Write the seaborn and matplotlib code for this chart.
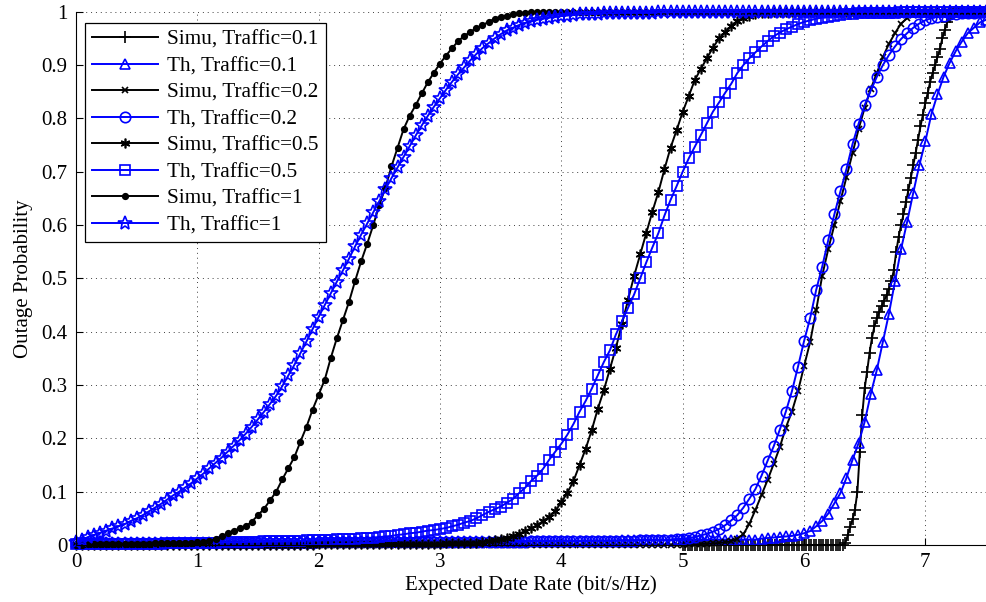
import numpy as np
import pandas as pd
import matplotlib
matplotlib.use('Agg')
import matplotlib.pyplot as plt
import seaborn as sns

# expected data rate grids (bit/s/Hz)
rate = np.round(np.arange(0, 7.5001, 0.05), 2)          # 151 points
rate_simu_01 = np.round(np.arange(5.0, 7.5001, 0.02), 2)  # 126 points

# outage probability
simu_01 = [0.0] * 67 + [
    0.003, 0.018, 0.034, 0.048, 0.066, 0.100, 0.175, 0.244, 0.294, 0.325,
    0.360, 0.388, 0.410, 0.425, 0.437, 0.448, 0.458, 0.468, 0.480, 0.495,
    0.515, 0.550, 0.578, 0.600, 0.620, 0.643, 0.665, 0.688, 0.712, 0.735,
    0.760, 0.785, 0.807, 0.829, 0.848, 0.869, 0.885, 0.900, 0.915, 0.930,
    0.950, 0.966, 0.980, 0.990, 0.996, 0.999] + [1.0] * 13

th_01 = [0.006] * 30 + [0.007] * 30 + [0.008] * 30 + [0.009] * 15 + [0.010] * 8 + [
    0.012, 0.013, 0.014, 0.015, 0.016, 0.017, 0.019,
    0.022, 0.026, 0.035, 0.045, 0.059, 0.078, 0.097, 0.126, 0.160, 0.191,
    0.231, 0.283, 0.328, 0.381, 0.434, 0.495, 0.555, 0.606, 0.660, 0.712,
    0.757, 0.808, 0.845, 0.878, 0.904, 0.926, 0.944, 0.960, 0.970, 0.980, 0.985]

simu_02 = [0.0] * 101 + [
    0.001, 0.001, 0.002, 0.002, 0.003, 0.004, 0.005, 0.007, 0.012,
    0.020, 0.040, 0.066, 0.094, 0.122, 0.152, 0.183, 0.220, 0.250, 0.288,
    0.335, 0.380, 0.440, 0.505, 0.555, 0.600, 0.645, 0.690, 0.735, 0.780,
    0.820, 0.855, 0.885, 0.915, 0.940, 0.960, 0.978, 0.988, 0.994, 0.997,
    0.999] + [1.0] * 10

th_02 = [0.003] * 20 + [0.004] * 20 + [0.005] * 20 + [0.006] * 15 + [0.007] * 10 + [0.008] * 8 + [0.009] * 5 + [
    0.010, 0.011,
    0.012, 0.013, 0.015, 0.018, 0.021, 0.025, 0.030, 0.037, 0.046, 0.056,
    0.070, 0.087, 0.105, 0.130, 0.158, 0.185, 0.216, 0.250, 0.288, 0.334,
    0.382, 0.425, 0.478, 0.522, 0.572, 0.620, 0.663, 0.705, 0.752, 0.790,
    0.825, 0.852, 0.878, 0.900, 0.919, 0.935, 0.949, 0.960, 0.970, 0.978,
    0.984, 0.988, 0.991, 0.993, 0.995, 0.996, 0.997, 0.998, 0.998, 0.999, 0.999]

simu_05 = [0.0] * 40 + [0.001] * 10 + [
    0.001, 0.001, 0.001, 0.001, 0.001, 0.002, 0.002, 0.002, 0.002, 0.002,
    0.002, 0.003, 0.003, 0.003, 0.004, 0.004, 0.004, 0.005, 0.007, 0.009,
    0.011, 0.014, 0.017, 0.021, 0.026, 0.031, 0.037, 0.045, 0.053, 0.064,
    0.080, 0.098, 0.120, 0.150, 0.180, 0.215, 0.255, 0.290, 0.330, 0.370,
    0.415, 0.460, 0.505, 0.545, 0.585, 0.625, 0.662, 0.705, 0.745, 0.778,
    0.812, 0.842, 0.872, 0.893, 0.913, 0.933, 0.950, 0.962, 0.974, 0.983,
    0.989, 0.993, 0.995, 0.997, 0.998, 0.999] + [1.0] * 35

th_05 = [
    0.001, 0.001, 0.001, 0.001, 0.001, 0.001, 0.001, 0.001, 0.002, 0.002,
    0.002, 0.002, 0.002, 0.002, 0.002, 0.003, 0.003, 0.003, 0.003, 0.003,
    0.004, 0.004, 0.004, 0.004, 0.005, 0.005, 0.005, 0.005, 0.006, 0.006,
    0.006, 0.007, 0.007, 0.007, 0.007, 0.008, 0.008, 0.008, 0.009, 0.009,
    0.009, 0.010, 0.010, 0.011, 0.011, 0.012, 0.012, 0.013, 0.013, 0.014,
    0.015, 0.016, 0.017, 0.019, 0.020, 0.022, 0.023, 0.025, 0.027, 0.028,
    0.030, 0.032, 0.035, 0.038, 0.042, 0.045, 0.050, 0.056, 0.062, 0.067,
    0.072, 0.079, 0.086, 0.097, 0.107, 0.120, 0.130, 0.143, 0.160, 0.175,
    0.190, 0.207, 0.227, 0.250, 0.270, 0.293, 0.318, 0.343, 0.365, 0.395,
    0.420, 0.445, 0.470, 0.500, 0.530, 0.558, 0.585, 0.618, 0.647, 0.673,
    0.700, 0.725, 0.747, 0.769, 0.791, 0.813, 0.830, 0.848, 0.865, 0.885,
    0.900, 0.913, 0.924, 0.935, 0.945, 0.954, 0.961, 0.967, 0.972, 0.977,
    0.981, 0.984, 0.987, 0.989, 0.991, 0.992, 0.994, 0.995, 0.996, 0.997,
    0.997, 0.998, 0.998, 0.998, 0.998, 0.998, 0.999, 0.999, 0.999, 0.999,
    0.999, 0.999, 0.999, 1.0, 1.0, 1.0, 1.0, 1.0, 1.0, 1.0, 1.0]

simu_1 = [
    0.000, 0.000, 0.001, 0.001, 0.001, 0.001, 0.001, 0.001, 0.002, 0.002,
    0.002, 0.002, 0.002, 0.003, 0.003, 0.003, 0.003, 0.004, 0.004, 0.004,
    0.005, 0.006, 0.008, 0.011, 0.016, 0.022, 0.027, 0.031, 0.035, 0.044,
    0.056, 0.068, 0.084, 0.100, 0.123, 0.144, 0.165, 0.194, 0.222, 0.254,
    0.282, 0.310, 0.351, 0.388, 0.422, 0.456, 0.495, 0.532, 0.565, 0.600,
    0.638, 0.670, 0.710, 0.745, 0.780, 0.805, 0.825, 0.847, 0.868, 0.886,
    0.903, 0.918, 0.932, 0.945, 0.955, 0.962, 0.970, 0.975, 0.981, 0.987,
    0.991, 0.993, 0.995, 0.997, 0.998, 0.999] + [1.0] * 75

th_1 = [
    0.005, 0.010, 0.015, 0.019, 0.023, 0.027, 0.031, 0.035, 0.039, 0.045,
    0.050, 0.056, 0.063, 0.070, 0.077, 0.085, 0.093, 0.100, 0.108, 0.116,
    0.125, 0.134, 0.144, 0.154, 0.164, 0.175, 0.186, 0.197, 0.209, 0.222,
    0.236, 0.250, 0.265, 0.280, 0.298, 0.318, 0.338, 0.360, 0.382, 0.405,
    0.428, 0.450, 0.472, 0.494, 0.515, 0.537, 0.560, 0.582, 0.603, 0.624,
    0.645, 0.667, 0.688, 0.708, 0.728, 0.748, 0.768, 0.787, 0.805, 0.822,
    0.838, 0.854, 0.869, 0.883, 0.896, 0.909, 0.921, 0.932, 0.941, 0.950,
    0.958, 0.965, 0.970, 0.975, 0.979, 0.982, 0.985, 0.987, 0.989, 0.990,
    0.992, 0.993, 0.994, 0.995, 0.995, 0.996, 0.996, 0.997, 0.997, 0.997,
    0.998, 0.998, 0.998, 0.998, 0.998, 0.998] + [0.999] * 15 + [1.0] * 40

labels = ['Simu, Traffic=0.1', 'Th, Traffic=0.1', 'Simu, Traffic=0.2', 'Th, Traffic=0.2',
          'Simu, Traffic=0.5', 'Th, Traffic=0.5', 'Simu, Traffic=1', 'Th, Traffic=1']

plt.rcParams['font.family'] = ['Liberation Serif', 'DejaVu Serif']

fig = plt.figure(figsize=(9.86, 6.02), dpi=100)
ax = fig.add_axes([0.0771, 0.0947, 0.9229, 0.8857])

# (x, y, color, marker, marker size, face)
series = [
    (rate_simu_01, simu_01, 'k', '+', 8, 'k'),
    (rate, th_01, 'b', '^', 7, 'none'),
    (rate, simu_02, 'k', 'x', 5, 'k'),
    (rate, th_02, 'b', 'o', 7.5, 'none'),
    (rate, simu_05, 'k', (6, 2, 0), 7, 'k'),
    (rate, th_05, 'b', 's', 7.5, 'none'),
    (rate, simu_1, 'k', 'o', 4, 'k'),
    (rate, th_1, 'b', '*', 10, 'none'),
]

for label, (xs, ys, color, marker, ms, face) in zip(labels, series):
    df = pd.DataFrame({'rate': xs, 'prob': ys})
    sns.lineplot(data=df, x='rate', y='prob', ax=ax, color=color, label=label,
                 estimator=None, sort=False, linewidth=1.4, marker=marker,
                 markersize=ms, markerfacecolor=face, markeredgecolor=color,
                 markeredgewidth=1.2, clip_on=False)

ax.set_xlim(0, 7.5)
ax.set_ylim(0, 1)
ax.set_xticks(range(8))
ax.set_yticks(np.round(np.arange(0, 1.01, 0.1), 1))
ax.set_yticklabels(['0', '0.1', '0.2', '0.3', '0.4', '0.5', '0.6', '0.7', '0.8', '0.9', '1'])
ax.set_xlabel('Expected Date Rate (bit/s/Hz)', fontsize=15, labelpad=2)
ax.set_ylabel('Outage Probability', fontsize=15, labelpad=6)
ax.tick_params(direction='in', length=5, width=0.8, labelsize=15, pad=6, colors='k')
ax.grid(True, linestyle=(0, (1, 4)), color='0.25', linewidth=0.7)
ax.set_axisbelow(True)
for side in ['top', 'right']:
    ax.spines[side].set_visible(False)
for side in ['left', 'bottom']:
    ax.spines[side].set_color('k')
    ax.spines[side].set_linewidth(0.8)

leg = ax.legend(loc='upper left', bbox_to_anchor=(0.0099, 0.979), borderaxespad=0,
                frameon=True, fancybox=False, edgecolor='k', framealpha=1,
                handlelength=3.1, handletextpad=0.45, labelspacing=0.31,
                borderpad=0.33, fontsize=15.3)
leg.get_frame().set_linewidth(0.9)

fig.savefig('out.png', dpi=100)
